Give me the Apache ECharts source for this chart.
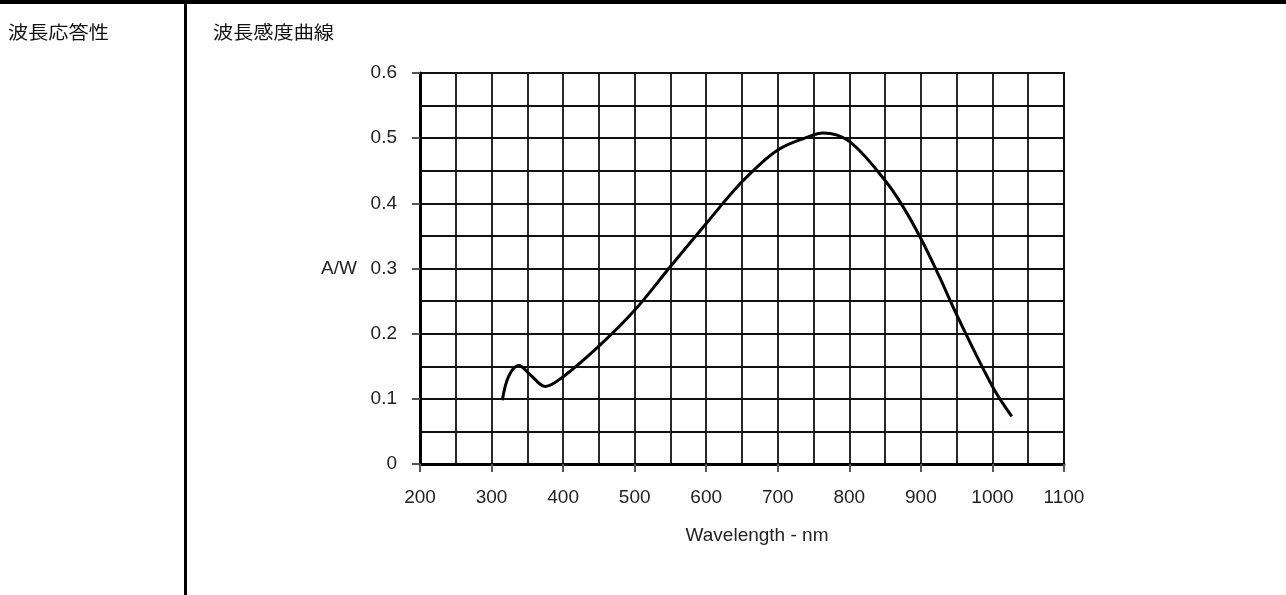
<!DOCTYPE html>
<html>
<head>
<meta charset="utf-8">
<script src="https://cdn.jsdelivr.net/npm/echarts@6/dist/echarts.min.js"></script>
<style>
  html, body { margin: 0; padding: 0; background: #fff; }
  #chart { width: 1286px; height: 595px; }
</style>
</head>
<body>
<div id="chart"></div>
<script>
// 波長応答性 - 波長感度曲線
var wavelengths = [315, 324, 338, 354, 375, 400, 450, 500, 550, 600, 650, 700, 750, 763, 800, 850, 875, 900, 926, 950, 1000, 1027];
var responses = [0.098, 0.135, 0.151, 0.137, 0.119, 0.134, 0.181, 0.236, 0.303, 0.369, 0.433, 0.482, 0.505, 0.508, 0.495, 0.435, 0.395, 0.346, 0.287, 0.229, 0.119, 0.073];

var sectionTitle = "波長応答性";
var chartTitle = "波長感度曲線";
var yUnit = "A/W";
var xName = "Wavelength - nm";

var curve = wavelengths.map(function (w, i) { return [w, responses[i]]; });

var labelFont = "'Liberation Sans', Arial, sans-serif";
var gridLine = { show: true, lineStyle: { color: "#111", width: 1.8 } };

var chart = echarts.init(document.getElementById("chart"));

var option = {
    animation: false,
    grid: { left: 420, right: 222, top: 73, bottom: 131 },
    xAxis: {
        type: "value",
        min: 200,
        max: 1100,
        interval: 100,
        name: xName,
        nameLocation: "middle",
        nameGap: 62,
        nameTextStyle: { color: "#222", fontSize: 19, fontFamily: labelFont, padding: [0, 0, 0, 30] },
        axisLine: { show: true, onZero: false, lineStyle: { color: "#000", width: 3 } },
        axisTick: { show: true, length: 8, lineStyle: { color: "#555", width: 2 } },
        axisLabel: { color: "#222", fontSize: 19, fontFamily: labelFont, margin: 24,
                     formatter: function (v) { return String(v); } },
        splitLine: gridLine,
        minorTick: { show: false, splitNumber: 2 },
        minorSplitLine: gridLine
    },
    yAxis: {
        type: "value",
        min: 0,
        max: 0.6,
        interval: 0.1,
        axisLine: { show: true, onZero: false, lineStyle: { color: "#000", width: 3 } },
        axisTick: { show: true, length: 8, lineStyle: { color: "#555", width: 2 } },
        axisLabel: { color: "#222", fontSize: 19, fontFamily: labelFont, margin: 23 },
        splitLine: gridLine,
        minorTick: { show: false, splitNumber: 2 },
        minorSplitLine: gridLine
    },
    graphic: [
        { type: "rect", left: 0, top: 0, shape: { width: 1286, height: 4 }, style: { fill: "#000" } },
        { type: "rect", left: 184, top: 0, shape: { width: 3, height: 595 }, style: { fill: "#000" } },
        { type: "text", x: 8, y: 32, scaleX: 1.12,
          style: { text: sectionTitle, fill: "#111", font: "18px 'Noto Sans CJK JP'", textVerticalAlign: "middle" } },
        { type: "text", x: 213, y: 32, scaleX: 1.12,
          style: { text: chartTitle, fill: "#111", font: "18px 'Noto Sans CJK JP'", textVerticalAlign: "middle" } },
        { type: "text", x: 357, y: 269,
          style: { text: yUnit, fill: "#222", font: "19px 'Liberation Sans', Arial", textAlign: "right", textVerticalAlign: "middle" } },
        // right and top frame of the plot
        { type: "rect", left: 1063, top: 72, shape: { width: 2, height: 393 }, style: { fill: "#000" } },
        { type: "rect", left: 412, top: 72, shape: { width: 652, height: 2 }, style: { fill: "#000" } }
    ],
    series: [{
        type: "line",
        data: curve,
        smooth: 0.35,
        showSymbol: false,
        lineStyle: { color: "#000", width: 3 },
        z: 5
    }]
};

chart.setOption(option);
</script>
</body>
</html>
